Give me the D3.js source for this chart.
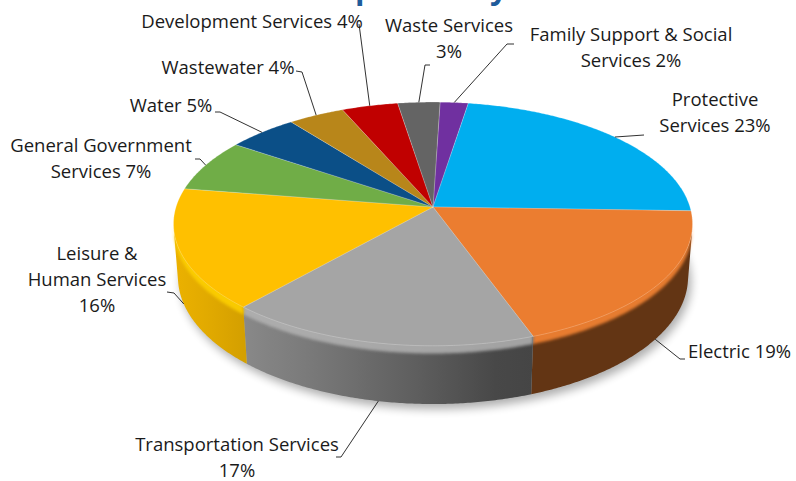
<!DOCTYPE html>
<html>
<head>
<meta charset="utf-8">
<script src="https://cdn.jsdelivr.net/npm/d3@7"></script>
<style>
  html, body { margin: 0; padding: 0; background: #ffffff; }
  svg { display: block; }
</style>
</head>
<body>
<svg id="chart" width="796" height="481"></svg>
<script>
// ---- data (clockwise from 12 o'clock) ----
const categories = [
  "Family Support & Social Services", "Protective Services", "Electric",
  "Transportation Services", "Leisure & Human Services", "General Government Services",
  "Water", "Wastewater", "Development Services", "Waste Services"
];
const shares = [2, 23, 19, 17, 16, 7, 5, 4, 4, 3];
// label lines; {p} is replaced by the share
const labelLines = [
  ["Family Support & Social", "Services {p}"],
  ["Protective", "Services {p}"],
  ["Electric {p}"],
  ["Transportation Services", "{p}"],
  ["Leisure &", "Human Services", "{p}"],
  ["General Government", "Services {p}"],
  ["Water {p}"],
  ["Wastewater {p}"],
  ["Development Services {p}"],
  ["Waste Services", "{p}"]
];
const titleText = "Expenses by Function";

// ---- styles ----
const sliceColors = ["#7030A0", "#00AEEF", "#EB7D30", "#A5A5A5", "#FFC000",
                     "#70AD47", "#0B4F87", "#B8861A", "#C00000", "#646464"];

// ---- label layout: text position and leader points near the text ----
const labelLayout = [
  { x: 631, y: 41,  anchor: "middle", leader: [[514, 44], [507, 44]] },
  { x: 715, y: 106, anchor: "middle", leader: [[644, 135]] },
  { x: 688, y: 358, anchor: "start",  leader: [[685, 359], [680, 359]] },
  { x: 237, y: 451, anchor: "middle", leader: [[336, 457], [341, 457]] },
  { x: 97,  y: 260, anchor: "middle", leader: [[167, 292], [174, 293]] },
  { x: 101, y: 152, anchor: "middle", leader: [[195, 159], [200, 159]] },
  { x: 171, y: 112, anchor: "middle", leader: [[215, 112], [220, 112]] },
  { x: 228, y: 74,  anchor: "middle", leader: [[296, 71], [302, 72]] },
  { x: 252, y: 28,  anchor: "middle", leader: [[359, 24]] },
  { x: 449, y: 32,  anchor: "middle", leader: [[430, 65], [425, 65]] }
];

const FONT = "'Open Sans', 'Noto Sans', sans-serif";
const fontSize = 18.5, lineGap = 26;

// ---- 3D view: unit-radius disc seen in perspective ----
const cx = 433, cy = 207;
const view = { sinPhi: 0.465, dist: 6.37, focal: 1637, depth: 0.2353 };
view.cosPhi = Math.sqrt(1 - view.sinPhi * view.sinPhi);
const startAngle = 1.8 * Math.PI / 180;

function project(theta, r, y) {
  const x = r * Math.sin(theta), z = -r * Math.cos(theta);
  const w = view.dist - (y * view.sinPhi + z * view.cosPhi);
  return [cx + view.focal * x / w, cy + view.focal * (z * view.sinPhi - y * view.cosPhi) / w];
}

// the outer wall faces the camera where cos(theta) < -1/(dist*cosPhi)
const wallFrom = Math.acos(-1 / (view.dist * view.cosPhi));
const wallTo = 2 * Math.PI - wallFrom;

const svg = d3.select("#chart");
const defs = svg.append("defs");
defs.append("filter").attr("id", "shadowBlur").attr("x", "-20%").attr("y", "-20%")
  .attr("width", "140%").attr("height", "140%")
  .append("feGaussianBlur").attr("stdDeviation", 5);
defs.append("filter").attr("id", "bevelBlur").attr("x", "-5%").attr("y", "-50%")
  .attr("width", "110%").attr("height", "200%")
  .append("feGaussianBlur").attr("stdDeviation", 1.6);

const pie = d3.pie().sort(null).value(d => d)
  .startAngle(startAngle).endAngle(startAngle + 2 * Math.PI);
const arcs = pie(shares);

function arcPoints(a, b, r, y) {
  const n = Math.max(2, Math.ceil(Math.abs(b - a) / (0.5 * Math.PI / 180)));
  return d3.range(n + 1).map(i => project(a + (b - a) * i / n, r, y));
}
const line = d3.line();

// light from the left front
function shade(theta) {
  const dot = -0.97 * Math.sin(theta) - 0.243 * Math.cos(theta);
  return 0.42 + 0.5 * Math.max(0, dot);
}
function scaled(color, f) {
  const c = d3.rgb(color);
  return d3.rgb(c.r * f, c.g * f, c.b * f).formatHex();
}

// soft shadow under the disc
const bottomRing = arcPoints(0, 2 * Math.PI, 1, -view.depth);
svg.append("path")
  .attr("d", line(bottomRing) + "Z")
  .attr("transform", "translate(3,5)")
  .attr("fill", "#000").attr("opacity", 0.32)
  .attr("filter", "url(#shadowBlur)");

// outer walls
const wallG = svg.append("g");
arcs.forEach((d, i) => {
  const a = Math.max(d.startAngle, wallFrom), b = Math.min(d.endAngle, wallTo);
  if (b <= a) return;
  const top = arcPoints(a, b, 1, 0);
  const bot = arcPoints(a, b, 1, -view.depth);
  const gid = "wall" + i;
  const x1 = top[0][0], x2 = top[top.length - 1][0];
  const grad = defs.append("linearGradient").attr("id", gid)
    .attr("gradientUnits", "userSpaceOnUse")
    .attr("x1", x1).attr("x2", x2).attr("y1", 0).attr("y2", 0);
  d3.range(9).forEach(k => {
    const t = a + (b - a) * k / 8;
    const px = project(t, 1, 0)[0];
    grad.append("stop").attr("offset", (px - x1) / (x2 - x1))
      .attr("stop-color", scaled(sliceColors[i], shade(t)));
  });
  wallG.append("path")
    .attr("d", line(top.concat(bot.reverse())) + "Z")
    .attr("fill", `url(#${gid})`);
  // rounded rim highlight
  const band = arcPoints(a, b, 1, -view.depth * 0.13);
  wallG.append("path")
    .attr("d", line(arcPoints(a, b, 1, 0.02).concat(band.reverse())) + "Z")
    .attr("fill", d3.color(sliceColors[i]).brighter(0.25))
    .attr("opacity", 0.85)
    .attr("filter", "url(#bevelBlur)");
});

// top faces
const topG = svg.append("g");
arcs.forEach((d, i) => {
  const pts = [[cx, cy]].concat(arcPoints(d.startAngle, d.endAngle, 1, 0));
  topG.append("path")
    .attr("d", line(pts) + "Z")
    .attr("fill", sliceColors[i])
    .attr("stroke", "rgba(255,255,255,0.35)")
    .attr("stroke-width", 0.6)
    .attr("stroke-linejoin", "round");
});

// leader lines, ending on the rim (back) or on the lower wall edge (front)
const leaderG = svg.append("g");
arcs.forEach((d, i) => {
  const mid = (d.startAngle + d.endAngle) / 2;
  const onWall = mid > wallFrom && mid < wallTo;
  const end = project(mid, 1, onWall ? -view.depth : 0);
  leaderG.append("path")
    .attr("d", line(labelLayout[i].leader.concat([end])))
    .attr("fill", "none").attr("stroke", "#1a1a1a").attr("stroke-width", 0.9);
});

// labels
const labelG = svg.append("g")
  .attr("font-family", FONT).attr("font-size", fontSize).attr("fill", "#1a1a1a");
arcs.forEach((d, i) => {
  const L = labelLayout[i];
  const t = labelG.append("text").attr("text-anchor", L.anchor);
  labelLines[i].forEach((s, k) => {
    t.append("tspan").attr("x", L.x).attr("y", L.y + k * lineGap)
      .text(s.replace("{p}", d.data + "%"));
  });
});

// title, mostly above the top edge; 'p' and 'y' descenders peek in
const title = svg.append("text")
  .attr("y", -1)
  .attr("font-family", FONT).attr("font-weight", 700).attr("font-size", 28)
  .attr("fill", "#1F5C9B")
  .text(titleText);
const tn = title.node();
const iP = titleText.indexOf("p"), iY = titleText.indexOf("y");
const offP = tn.getSubStringLength(0, iP), offY = tn.getSubStringLength(0, iY);
const tSize = 28 * (490 - 355) / (offY - offP);
title.attr("font-size", tSize).attr("x", 355 - offP * tSize / 28);
</script>
</body>
</html>
